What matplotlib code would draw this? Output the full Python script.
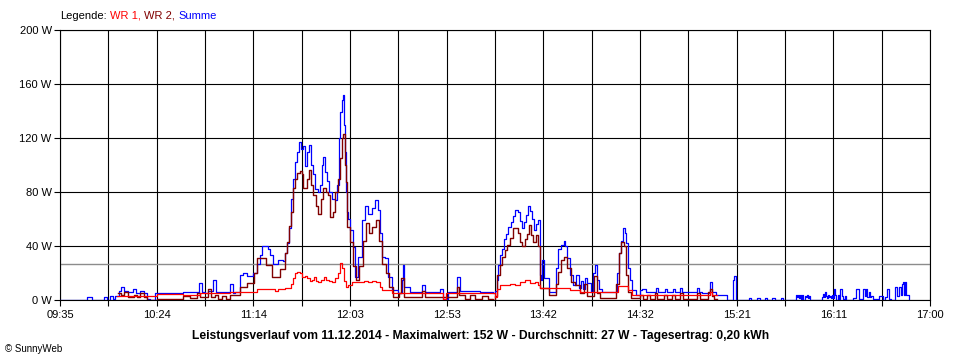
import matplotlib
matplotlib.use("Agg")
import matplotlib.pyplot as plt
import numpy as np

plt.rcParams['font.family'] = ['Liberation Sans', 'DejaVu Sans']

# ---------------- data (time = minutes after 09:35, power in W) ----------------
x_tick_labels = ["09:35", "10:24", "11:14", "12:03", "12:53", "13:42",
                 "14:32", "15:21", "16:11", "17:00"]
x_span_minutes = 445          # 09:35 .. 17:00
y_ticks = [0, 40, 80, 120, 160, 200]
y_tick_labels = ["0 W", "40 W", "80 W", "120 W", "160 W", "200 W"]
average_w = 27

legend_items = ["WR 1,", "WR 2,", "Summe"]
title_text = ("Leistungsverlauf vom 11.12.2014 - Maximalwert: 152 W - "
              "Durchschnitt: 27 W - Tagesertrag: 0,20 kWh")

t_sum = [0, 13.8, 16.4, 22.5, 24.0, 25.6, 27.1, 28.1, 30.2, 31.2,
         32.7, 34.8, 37.3, 38.9, 40.9, 43.0, 44.5, 46.0, 48.6, 62.9,
         71.1, 72.6, 74.2, 75.7, 78.3, 79.8, 87.0, 88.5, 89.5, 92.1,
         93.6, 95.7, 98.7, 100.8, 102.3, 103.3, 106.4, 107.4, 108.9, 111.5,
         114.1, 115.1, 116.1, 117.1, 118.2, 119.2, 120.2, 121.2, 122.2, 123.3,
         124.3, 125.3, 126.3, 127.4, 128.4, 129.4, 130.4, 132.0, 133.0, 134.0,
         134.5, 135.5, 136.6, 137.6, 139.1, 140.7, 141.7, 142.7, 143.2, 144.2,
         144.8, 145.3, 145.8, 146.3, 146.8, 147.3, 148.3, 149.9, 150.9, 152.4,
         154.5, 156.0, 157.5, 159.6, 161.1, 162.7, 163.7, 164.7, 166.2, 167.8,
         169.8, 172.9, 174.9, 175.4, 176.0, 179.0, 185.2, 186.7, 194.4, 195.9,
         198.5, 203.1, 204.6, 214.8, 221.5, 222.5, 223.5, 224.0, 225.1, 226.1,
         227.1, 228.1, 229.2, 230.7, 231.7, 232.7, 234.3, 235.3, 236.3, 237.3,
         238.4, 239.4, 240.4, 241.4, 242.4, 243.5, 244.5, 245.5, 246.0, 246.5,
         247.6, 250.1, 253.7, 254.7, 256.3, 257.8, 258.3, 259.3, 260.9, 262.4,
         263.9, 265.5, 266.5, 267.5, 268.5, 269.6, 271.6, 272.6, 273.7, 274.7,
         275.7, 277.2, 284.9, 285.9, 287.0, 288.0, 289.0, 289.5, 290.5, 291.6,
         292.6, 294.6, 296.7, 297.7, 299.7, 304.9, 305.9, 309.5, 310.5, 313.6,
         314.6, 317.1, 318.2, 325.8, 326.8, 328.4, 332.5, 333.5, 335.5, 341.2,
         344.2, 344.8, 345.8, 352.4, 353.4, 356.5, 358.1, 360.6, 361.6, 364.2,
         365.7, 368.8, 369.8, 376.5, 377.0, 377.5, 378.0, 378.5, 379.0, 379.5,
         380.1, 381.1, 381.6, 382.1, 382.6, 383.1, 383.6, 389.8, 390.3, 390.8,
         391.3, 391.8, 392.3, 392.8, 393.3, 393.9, 394.4, 394.9, 395.4, 395.9,
         396.4, 396.9, 397.9, 398.4, 399.0, 400.0, 400.5, 401.5, 402.0, 405.6,
         407.2, 408.7, 410.2, 410.7, 411.8, 412.3, 412.8, 413.8, 414.3, 414.8,
         415.8, 418.9, 421.0, 422.0, 423.0, 424.0, 425.1, 427.1, 428.1, 429.1,
         430.2, 430.7, 431.2, 431.7, 432.2, 432.7, 434.3]
p_sum = [0, 2.5, 0, 2, 0, 3, 1, 3, 7, 10,
         7, 6, 8, 5, 7, 5, 1, 0, 5.4, 6,
         12.8, 6, 5, 7, 14.8, 6, 12, 5, 6, 18.5,
         20, 18, 20, 27, 33, 40, 38, 33, 27, 30,
         29, 35, 42, 53, 75, 90, 102, 110, 117, 112,
         114, 99, 110, 115, 100, 93, 82, 80, 85, 100,
         106, 95, 88, 80, 75, 74, 85, 120, 139, 148,
         152, 130, 110, 80, 65, 60, 52, 39.5, 17, 32,
         59, 70, 64, 68, 74, 66.7, 49.6, 32, 31, 17,
         7.4, 5, 15, 26, 10, 6, 11, 6, 8, 1,
         6, 17, 7, 6, 5, 7, 15, 26, 33, 38,
         45, 49, 54, 58, 62, 66.7, 65, 58.5, 53, 58,
         63, 70, 66, 60, 52, 56, 59, 18.5, 15, 30,
         16, 6, 23.5, 38, 41, 44, 40, 31, 18.5, 11,
         18.5, 9, 14, 8, 16, 12.5, 6, 20, 26, 15,
         8, 6, 20, 34.6, 44, 53, 50, 42, 23.5, 14.8,
         7.4, 3.7, 7.4, 8, 6, 8.6, 6, 8, 6, 8,
         6, 8.6, 6, 8.6, 6, 5, 13.6, 6, 3.7, 0,
         14.8, 17.8, 0, 1.7, 0, 1.5, 0, 1.5, 0, 1.5,
         0, 1.5, 0, 3.7, 2, 3.5, 1.5, 4, 1, 3.5,
         0, 3, 2, 4, 1.5, 3, 0, 2, 4.5, 2,
         5.7, 3, 1.5, 4, 2, 3, 1.5, 3.7, 1.5, 8,
         4, 0, 3.5, 1, 8, 3, 0.5, 3, 0, 1.5,
         8, 1, 0.5, 8, 3, 8, 2, 6, 2, 3,
         0.5, 3, 0, 2, 8, 1, 0, 9.6, 3, 9.6,
         4, 12, 13.5, 4, 13.5, 3.7, 0]

t_wr2 = [29.7, 31.2, 32.7, 34.8, 37.9, 39.4, 40.9, 43.0, 44.5, 49.6,
         62.9, 66.5, 70.1, 71.6, 75.7, 77.2, 79.3, 80.8, 82.9, 84.9,
         87.0, 92.1, 95.7, 99.2, 100.8, 105.4, 108.4, 112.5, 115.1, 116.1,
         117.1, 118.2, 119.2, 120.2, 121.2, 122.8, 123.8, 124.3, 126.3, 127.4,
         128.4, 129.4, 130.9, 132.0, 133.5, 134.5, 136.1, 137.1, 138.1, 139.6,
         140.7, 142.2, 143.2, 144.2, 144.8, 145.8, 146.3, 146.8, 148.3, 149.9,
         151.4, 152.9, 155.0, 156.5, 158.1, 159.6, 161.6, 163.2, 164.7, 166.7,
         168.3, 170.3, 173.4, 174.4, 176.0, 185.2, 186.7, 203.1, 204.1, 207.2,
         209.7, 212.3, 215.9, 218.9, 221.5, 222.5, 223.5, 225.1, 226.1, 227.6,
         228.6, 230.2, 231.7, 234.3, 235.3, 236.3, 237.8, 238.9, 239.9, 240.9,
         241.9, 243.5, 244.5, 245.5, 250.1, 253.7, 254.7, 256.3, 257.8, 259.3,
         261.4, 263.4, 266.0, 268.0, 269.6, 273.1, 274.7, 276.2, 284.4, 285.9,
         287.0, 288.5, 289.5, 290.5, 292.1, 296.7, 298.2, 300.2, 301.8, 304.3,
         305.4, 309.0, 310.5, 313.0, 314.6, 317.1, 318.7, 325.8, 327.4, 331.5,
         332.5, 333.5, 334.5, 336.1]
p_wr2 = [5, 4, 6, 2, 4, 2, 5, 2, 0, 1,
         3, 1.5, 5, 2, 8, 2, 4, 1, 3, 1,
         4, 10, 12.8, 20, 31, 26, 17, 23, 35, 43,
         55, 65, 82.7, 90, 94, 95.5, 93, 82.7, 90, 96,
         85, 77.8, 70, 64, 75, 82.7, 80, 77.8, 61.7, 65,
         80, 90, 105, 120, 123, 100, 87.6, 54, 43, 25,
         14.8, 25, 44, 57, 49.6, 54, 59, 44, 27, 20,
         10, 2.5, 5, 16, 2.5, 7, 2.5, 10, 3.5, 1,
         4, 1, 3, 1, 0, 3, 18.5, 26, 32, 37,
         40.7, 45.7, 53, 50, 43, 40, 45, 49, 55.6, 48,
         43, 48, 40, 9, 3.7, 12, 21, 30, 32, 23.5,
         13.6, 11, 5, 12, 3, 18, 5, 1.5, 12, 34.6,
         43, 40, 18.5, 6, 1.5, 4, 1, 4, 1, 5,
         1, 4, 1, 4, 1, 5, 1, 5, 1, 6,
         8, 3, 1, 1]

t_wr1 = [29.2, 49.6, 62.9, 71.6, 87.0, 100.8, 110.0, 111.5, 115.1, 118.2,
         119.2, 120.2, 121.2, 122.8, 123.8, 125.3, 126.3, 127.9, 128.9, 129.9,
         130.9, 132.0, 133.5, 135.0, 136.1, 137.6, 139.1, 140.7, 142.2, 143.2,
         144.2, 145.3, 146.3, 147.3, 149.4, 153.5, 155.5, 157.5, 159.6, 161.6,
         163.7, 164.7, 169.8, 195.9, 197.4, 222.5, 223.5, 225.1, 230.2, 232.7,
         235.3, 237.8, 240.4, 243.0, 244.5, 245.5, 260.9, 266.0, 285.4, 290.5,
         292.6, 306.9, 329.9, 332.5, 333.5, 336.1]
p_wr1 = [3, 4.5, 4, 5, 6, 8, 6.5, 8, 9, 12,
         16, 20, 21, 20, 17, 18, 16, 14, 15, 17,
         14, 13, 15, 17, 15, 14, 13, 16, 20, 27.5,
         24, 14, 10, 11, 13.6, 13, 14, 13, 14, 13,
         10, 7.4, 5, 1, 5, 2.5, 8, 11, 12, 11,
         13, 14.8, 12.5, 13, 11, 8.6, 7.4, 6, 10.4, 7.4,
         3.7, 4, 4, 6, 4, 4]

# ---------------- figure ----------------
fig = plt.figure(figsize=(9.6, 3.6), dpi=100)
fig.patch.set_facecolor("white")
ax = fig.add_axes([60 / 960, 60 / 360, 870 / 960, 270 / 360])

major_x = np.linspace(0, x_span_minutes, len(x_tick_labels))
minor_x = (major_x[:-1] + major_x[1:]) / 2

ax.set_xlim(0, x_span_minutes)
ax.set_ylim(0, 200)

# grid
for xv in np.concatenate([major_x, minor_x]):
    ax.axvline(xv, color="black", lw=0.8, zorder=1)
for yv in y_ticks:
    ax.axhline(yv, color="black", lw=0.8, zorder=1)
ax.axhline(average_w, color="#8c8c8c", lw=1.0, zorder=1.5)

ax.plot(t_sum, p_sum, drawstyle="steps-post", color="#0000ff", lw=0.9, zorder=3)
ax.plot(t_wr2, p_wr2, drawstyle="steps-post", color="#800000", lw=1.0, zorder=4)
ax.plot(t_wr1, p_wr1, drawstyle="steps-post", color="#ff0000", lw=0.9, zorder=5)

ax.set_xticks(major_x)
ax.set_xticklabels(x_tick_labels)
ax.set_xticks(minor_x, minor=True)
ax.set_yticks(y_ticks)
ax.set_yticklabels(y_tick_labels)
ax.tick_params(axis="both", which="both", direction="out", length=4, width=0.8,
               color="black", labelsize=8)
ax.tick_params(axis="x", pad=3)
ax.tick_params(axis="y", pad=2)
for s in ax.spines.values():
    s.set_color("black")
    s.set_linewidth(0.8)

# legend line on top
leg = fig.text(60 / 960, 1 - 16 / 360, "Legende:", fontsize=8, color="black",
               va="center", ha="left")
prev = leg
for label, col in zip(legend_items, ["#ff0000", "#800000", "#0000ff"]):
    prev = ax.annotate(label, xy=(1, 0), xycoords=prev, xytext=(2.5, 0),
                       textcoords="offset points", fontsize=8, color=col,
                       va="bottom", ha="left", annotation_clip=False)

fig.text(481 / 960, 1 - 336 / 360, title_text, fontsize=8.7, fontweight="bold",
         ha="center", va="center")
fig.text(5 / 960, 1 - 349 / 360, "© SunnyWeb", fontsize=7, ha="left", va="center")

fig.savefig("out.png", dpi=100)
